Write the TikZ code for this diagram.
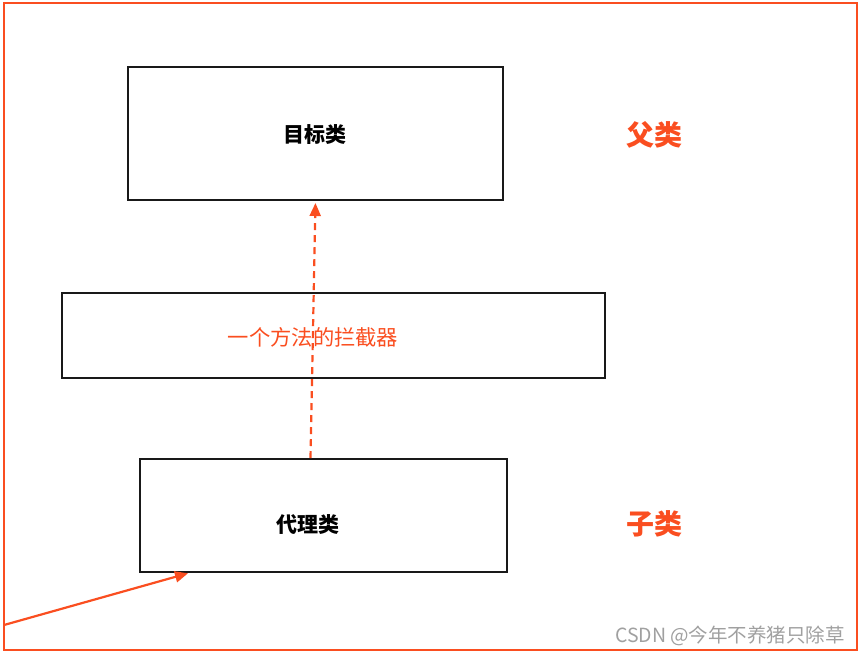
\documentclass[tikz,border=0pt]{standalone}
\usepackage{fontspec}
\setmainfont{Noto Sans CJK SC}
\usetikzlibrary{positioning,arrows.meta}
\definecolor{redline}{RGB}{250,78,32}
\definecolor{wmgray}{RGB}{160,160,160}
\tikzset{
    x=1pt, y=-1pt, % one unit is one pixel of the picture
    classbox/.style={draw=black!90, line width=2pt, inner sep=0pt},
    classtext/.style={font=\fontsize{21}{25}\selectfont\bfseries},
    sidetext/.style={text=redline, font=\fontsize{28}{33}\selectfont\bfseries},
    %every arrow is filled and red
    redarrow/.style={draw=redline, line width=2.2pt, -{Triangle[length=13pt,width=11pt]}},
}
\begin{document}
\begin{tikzpicture}
      \useasboundingbox (0,0) rectangle (861,654);
      \draw[redline, line width=2.5pt] (4,3) rectangle (857,650);

      \node (q_target) [classbox, minimum width=375pt, minimum height=133pt] at (315.5,133.5) {};
      \node (q_target_txt) [classtext] at (315,135) {目标类};
      \node (q_parent) [sidetext] at (654,135) {父类};

      \node (q_interceptor) [classbox, minimum width=543pt, minimum height=85pt] at (333.5,335.5) {};
      \node (q_interceptor_txt) [text=redline, font=\fontsize{21.3}{25}\selectfont] at (313,337) {一个方法的拦截器};

      \node (q_proxy) [classbox, minimum width=367pt, minimum height=113pt] at (323.5,515.5) {};
      \node (q_proxy_txt) [classtext] at (308,525) {代理类};
      \node (q_child) [sidetext] at (654,524) {子类};

      \node (q_mark) [text=wmgray, font=\fontsize{19.5}{23}\selectfont] at (730,636) {CSDN @今年不养猪只除草};

      \coordinate (q_entry) at (4,625);
      \path
      ([xshift=-13pt]q_proxy.north) edge [redarrow, dashed, dash pattern=on 7pt off 5pt, shorten >=2pt] (q_target.south)
      (q_entry)                     edge [redarrow, shorten >=1pt] ([xshift=50pt]q_proxy.south west)
      ;
\end{tikzpicture}
\end{document}
